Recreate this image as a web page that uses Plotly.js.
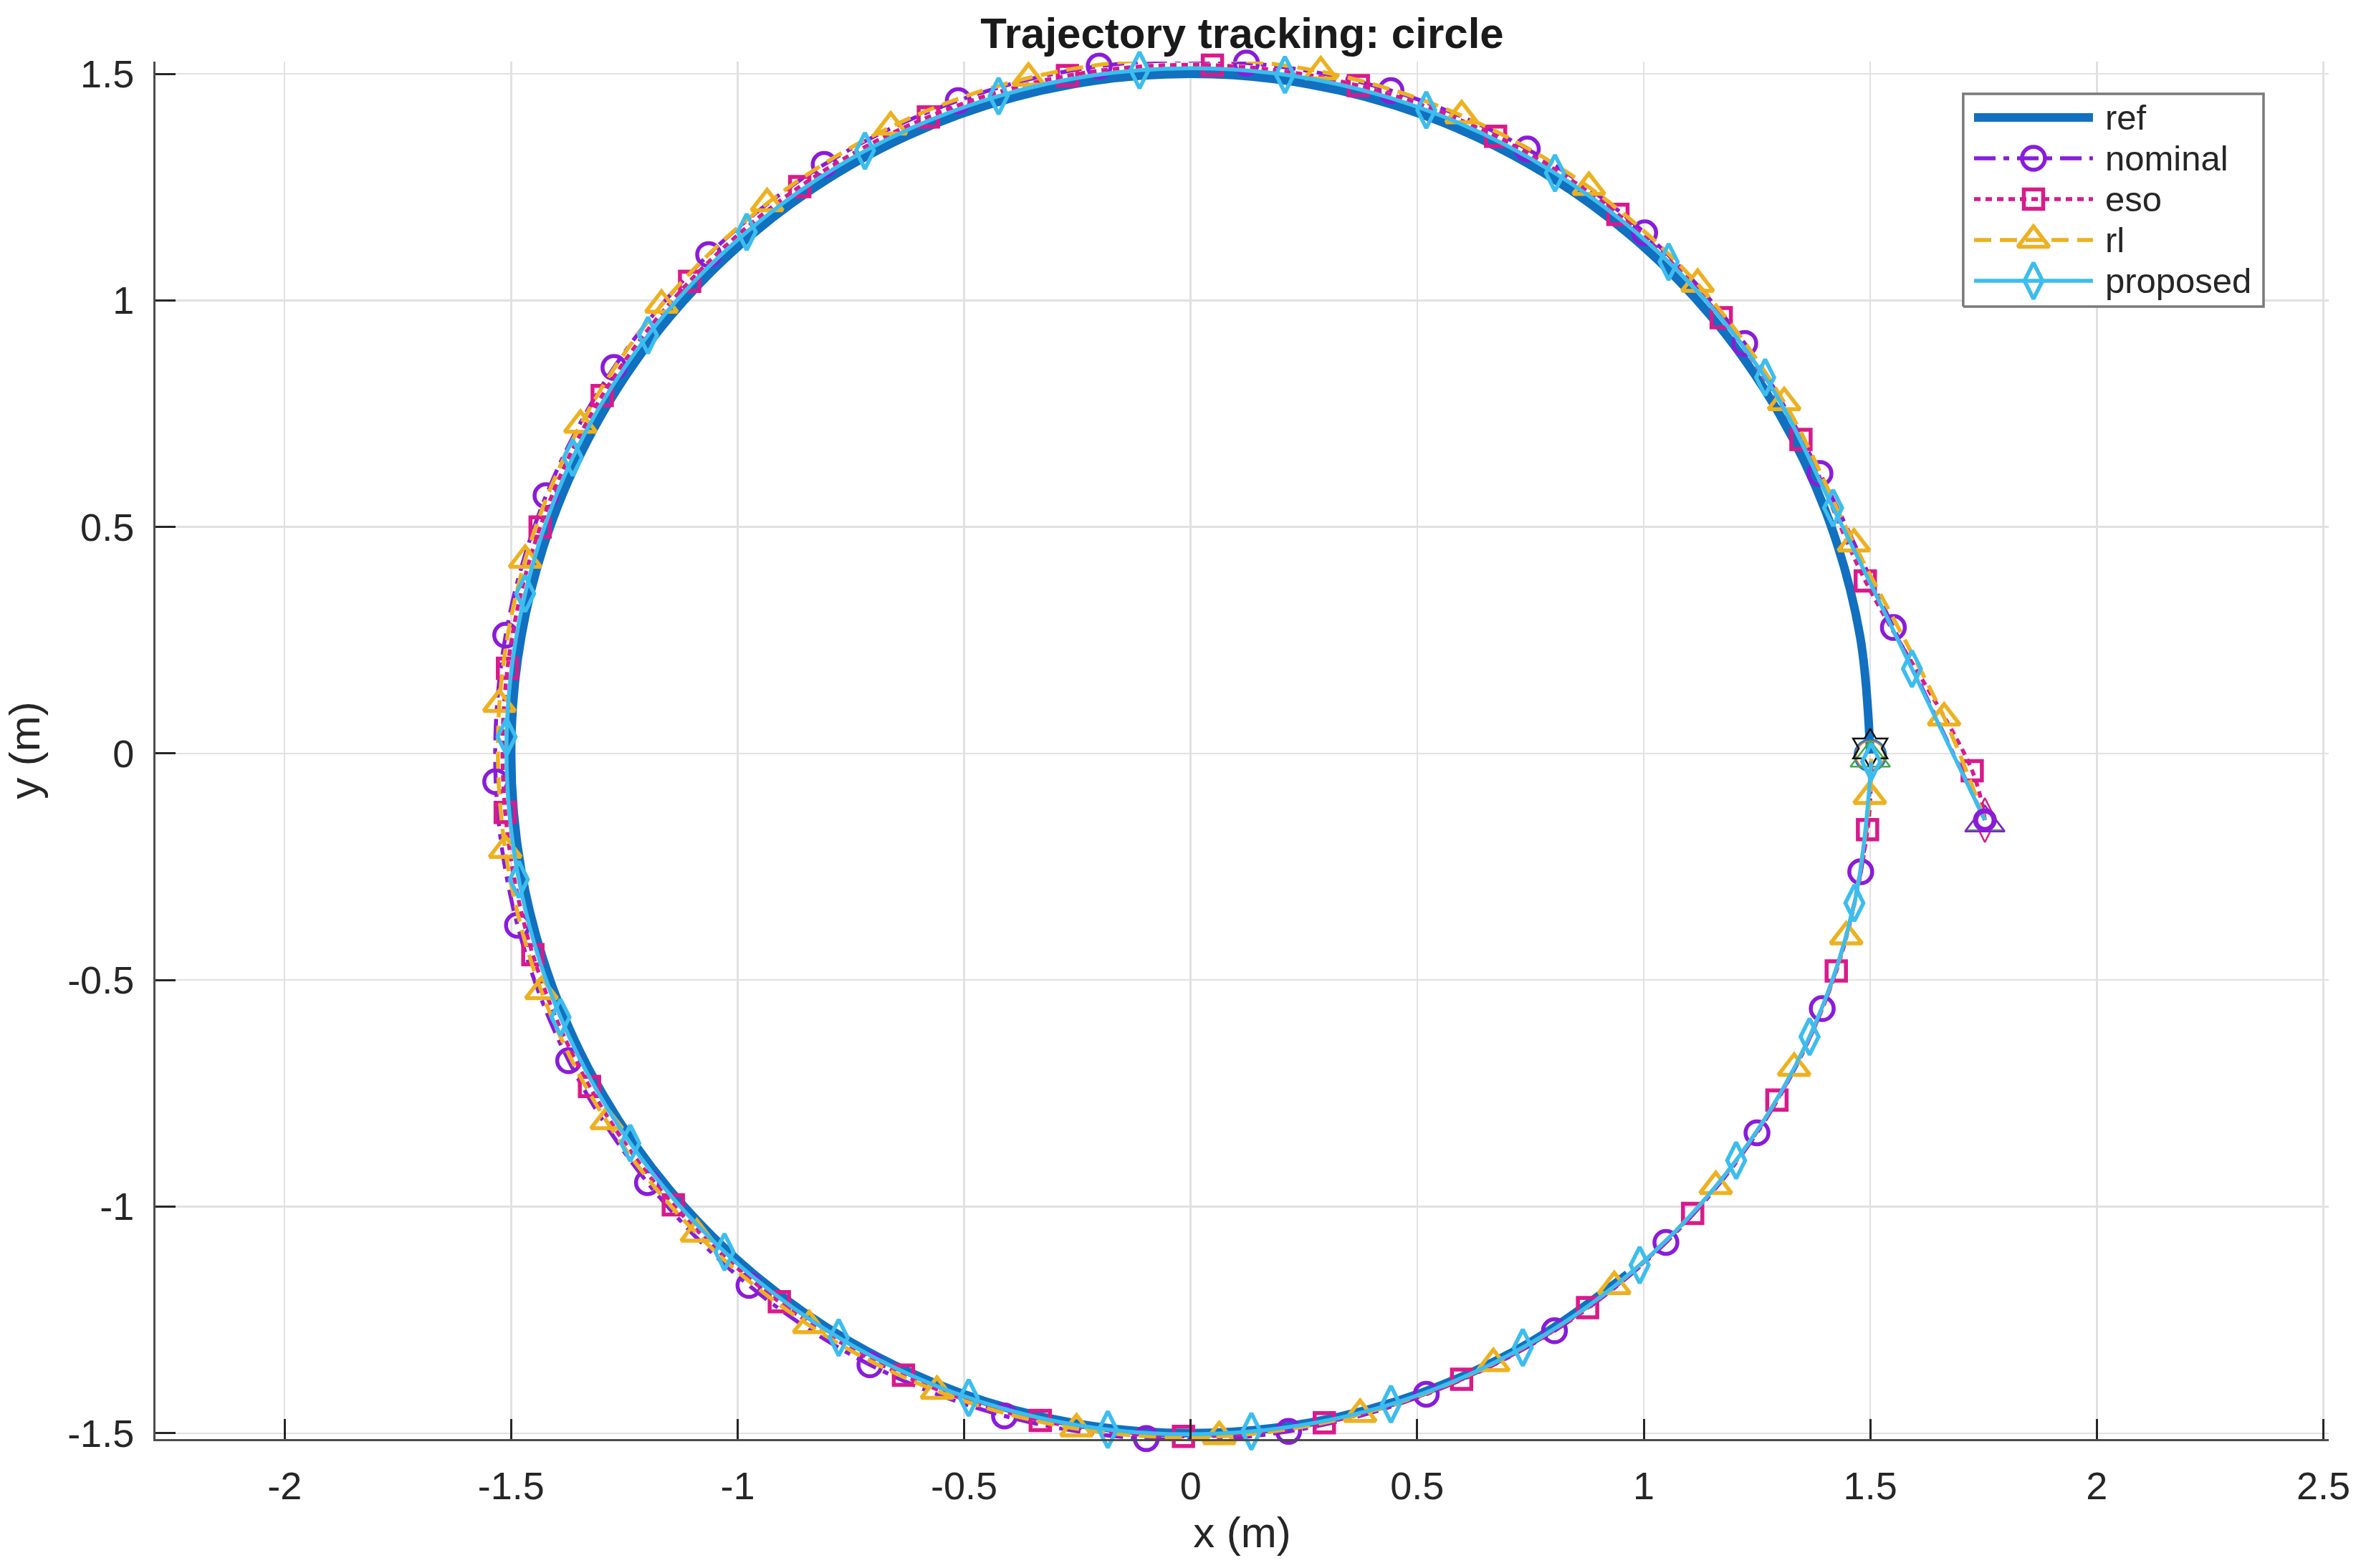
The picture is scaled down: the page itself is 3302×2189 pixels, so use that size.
<!DOCTYPE html>
<html>
<head>
<meta charset="utf-8">
<script src="https://cdn.plot.ly/plotly-3.0.1.min.js"></script>
<style>
html,body{margin:0;padding:0;background:#ffffff;}
#chart{width:3302px;height:2189px;}
</style>
</head>
<body>
<div id="chart"></div>
<script>
// ---------------- data ----------------
const seriesNames = ['ref', 'nominal', 'eso', 'rl', 'proposed'];

// reference circle (r = 1.5), starts at (1.5, 0), counter-clockwise
const refX = [1.5, 1.4772, 1.4095, 1.2990, 1.1491, 0.9642, 0.75, 0.5130, 0.2605, 0,
  -0.2605, -0.5130, -0.75, -0.9642, -1.1491, -1.2990, -1.4095, -1.4772, -1.5,
  -1.4772, -1.4095, -1.2990, -1.1491, -0.9642, -0.75, -0.5130, -0.2605, 0,
  0.2605, 0.5130, 0.75, 0.9642];
const refY = [0, 0.2605, 0.5130, 0.75, 0.9642, 1.1491, 1.2990, 1.4095, 1.4772, 1.5,
  1.4772, 1.4095, 1.2990, 1.1491, 0.9642, 0.75, 0.5130, 0.2605, 0,
  -0.2605, -0.5130, -0.75, -0.9642, -1.1491, -1.2990, -1.4095, -1.4772, -1.5,
  -1.4772, -1.4095, -1.2990, -1.1491];

const nominalX = [1.753, 1.551, 1.389, 1.223, 1.002, 0.743, 0.442, 0.123, -0.202, -0.513,
  -0.809, -1.064, -1.273, -1.423, -1.512, -1.534, -1.486, -1.373, -1.199, -0.975,
  -0.708, -0.411, -0.098, 0.216, 0.520, 0.803, 1.049, 1.250, 1.394, 1.479, 1.502];
const nominalY = [-0.147, 0.278, 0.618, 0.905, 1.149, 1.334, 1.463, 1.524, 1.517, 1.441,
  1.300, 1.101, 0.852, 0.569, 0.261, -0.062, -0.379, -0.678, -0.947, -1.174,
  -1.349, -1.462, -1.512, -1.496, -1.414, -1.274, -1.079, -0.837, -0.563, -0.261, -0.012];

const esoX = [1.753, 1.725, 1.489, 1.347, 1.171, 0.943, 0.673, 0.370, 0.048, -0.272,
  -0.579, -0.863, -1.106, -1.299, -1.436, -1.508, -1.513, -1.452, -1.327, -1.142,
  -0.908, -0.634, -0.332, -0.016, 0.295, 0.598, 0.876, 1.108, 1.294, 1.425, 1.494, 1.502];
const esoY = [-0.147, -0.038, 0.381, 0.693, 0.962, 1.190, 1.362, 1.474, 1.519, 1.496,
  1.405, 1.251, 1.042, 0.790, 0.500, 0.188, -0.130, -0.444, -0.735, -0.996,
  -1.210, -1.372, -1.472, -1.507, -1.477, -1.381, -1.223, -1.015, -0.765, -0.480, -0.168, -0.012];

const rlX = [1.753, 1.663, 1.464, 1.310, 1.119, 0.879, 0.598, 0.287, -0.037, -0.358,
  -0.662, -0.935, -1.168, -1.347, -1.469, -1.526, -1.513, -1.433, -1.289, -1.090,
  -0.842, -0.560, -0.252, 0.063, 0.374, 0.668, 0.935, 1.159, 1.332, 1.447, 1.499, 1.502];
const rlY = [-0.147, 0.079, 0.463, 0.775, 1.036, 1.250, 1.408, 1.505, 1.533, 1.491,
  1.383, 1.214, 0.990, 0.725, 0.427, 0.109, -0.213, -0.525, -0.812, -1.060,
  -1.262, -1.407, -1.490, -1.507, -1.458, -1.346, -1.176, -0.955, -0.694, -0.404, -0.094, -0.012];

const proposedX = [1.753, 1.592, 1.418, 1.268, 1.055, 0.804, 0.520, 0.208, -0.113, -0.424,
  -0.719, -0.980, -1.198, -1.364, -1.469, -1.510, -1.483, -1.391, -1.237, -1.029,
  -0.777, -0.490, -0.183, 0.134, 0.442, 0.733, 0.991, 1.204, 1.366, 1.465, 1.502];
const proposedY = [-0.147, 0.187, 0.542, 0.830, 1.085, 1.281, 1.420, 1.498, 1.508, 1.451,
  1.330, 1.151, 0.923, 0.653, 0.353, 0.037, -0.278, -0.582, -0.860, -1.100,
  -1.289, -1.422, -1.492, -1.496, -1.436, -1.311, -1.129, -0.898, -0.625, -0.330, -0.018];

// start / end points of the runs
const startX = [1.753];
const startY = [-0.147];
const endX = [1.5];
const endY = [0.0];

const xTickVals = [-2, -1.5, -1, -0.5, 0, 0.5, 1, 1.5, 2, 2.5];
const xTickText = ['-2', '-1.5', '-1', '-0.5', '0', '0.5', '1', '1.5', '2', '2.5'];
const yTickVals = [-1.5, -1, -0.5, 0, 0.5, 1, 1.5];
const yTickText = ['-1.5', '-1', '-0.5', '0', '0.5', '1', '1.5'];

// ---------------- styles ----------------
const COL = {ref: '#1170BF', nominal: '#8A1CD9', eso: '#D91A8C', rl: '#EDB120', proposed: '#3CBDEE'};
const FONT = '"Liberation Sans", Arial, Helvetica, sans-serif';
const LW = 5.5;
const STY = {
  nominal: {dash: '30px,11px,8px,11px', symbol: 'circle-open', size: 32},
  eso: {dash: '9px,7px', symbol: 'square-open', size: 27},
  rl: {dash: '24px,12px', symbol: 'triangle-up-open', size: 38},
  proposed: {dash: 'solid', symbol: 'diamond-tall-open', size: 36}
};

function hideEnds(n, hideLast) {
  return Array.from({length: n}, (_, i) => (i === 0 || (hideLast && i === n - 1)) ? 0 : 1);
}

function seriesTrace(name, xs, ys, hideLast) {
  const s = STY[name];
  return {
    type: 'scatter', mode: 'lines+markers', name: name, x: xs, y: ys,
    line: {color: COL[name], width: LW, dash: s.dash, shape: 'spline', smoothing: 1},
    marker: {symbol: s.symbol, size: s.size, color: COL[name], opacity: hideEnds(xs.length, hideLast),
             line: {color: COL[name], width: LW}},
    cliponaxis: false, showlegend: false, hoverinfo: 'skip'
  };
}

const traces = [];
traces.push({
  type: 'scatter', mode: 'lines', name: 'ref', x: refX, y: refY,
  line: {color: COL.ref, width: 12, shape: 'spline', smoothing: 1},
  showlegend: false, hoverinfo: 'skip'
});

// start / end marker clusters
function pt(xs, ys, symbol, size, color, width, dy) {
  return {type: 'scatter', mode: 'markers', x: xs, y: ys.map(v => v + (dy || 0)),
    marker: {symbol: symbol, size: size, color: color, line: {color: color, width: width}},
    cliponaxis: false, showlegend: false, hoverinfo: 'skip'};
}
traces.push(pt(startX, startY, 'diamond-tall-open', 44, '#D91A8C', 2.5));
traces.push(pt(startX, startY, 'triangle-up-open', 46, '#3FAE3F', 2.5, -0.004));
traces.push(pt(startX, startY, 'triangle-up-open', 48, '#8A1CD9', 2.5, -0.006));
traces.push(pt(endX, endY, 'circle-open', 40, '#E8812C', 2.5, -0.004));
traces.push(pt(endX, endY, 'circle-open', 44, '#1F77D0', 2.5, -0.004));
traces.push(pt(endX, endY, 'triangle-up-open', 48, '#3FAE3F', 2.5, -0.01));
traces.push(pt(endX, endY, 'hexagram-open', 42, '#111111', 2.5, 0.011));

traces.push(seriesTrace('nominal', nominalX, nominalY, true));
traces.push(seriesTrace('eso', esoX, esoY, true));
traces.push(seriesTrace('rl', rlX, rlY, true));
traces.push(seriesTrace('proposed', proposedX, proposedY, false));
traces.push(pt(startX, startY, 'circle-open', 26, '#8A1CD9', 7));

// ---------------- legend (drawn on an overlay axis, range 0..1) ----------------
const LG = {x0: 0.8318, x1: 0.9700, y0: 0.8222, y1: 0.9766, lx0: 0.8368, lx1: 0.8915, tx: 0.8965,
            rows: [0.9594, 0.9298, 0.9002, 0.8705, 0.8409]};
traces.push({
  type: 'scatter', mode: 'lines', xaxis: 'x2', yaxis: 'y2',
  x: [LG.x0, LG.x1, LG.x1, LG.x0, LG.x0], y: [LG.y0, LG.y0, LG.y1, LG.y1, LG.y0],
  fill: 'toself', fillcolor: '#ffffff', line: {color: '#7a7a7a', width: 3.5},
  showlegend: false, hoverinfo: 'skip'
});
const annotations = [];
seriesNames.forEach((name, i) => {
  const yy = LG.rows[i];
  const mid = (LG.lx0 + LG.lx1) / 2;
  if (name === 'ref') {
    traces.push({type: 'scatter', mode: 'lines', xaxis: 'x2', yaxis: 'y2', x: [LG.lx0, LG.lx1], y: [yy, yy],
      line: {color: COL.ref, width: 12}, showlegend: false, hoverinfo: 'skip'});
  } else {
    const s = STY[name];
    traces.push({type: 'scatter', mode: 'lines+markers', xaxis: 'x2', yaxis: 'y2',
      x: [LG.lx0, mid, LG.lx1], y: [yy, yy, yy],
      line: {color: COL[name], width: LW, dash: s.dash},
      marker: {symbol: s.symbol, size: s.size, color: COL[name], opacity: [0, 1, 0], line: {color: COL[name], width: LW}},
      showlegend: false, hoverinfo: 'skip'});
  }
  annotations.push({xref: 'x2', yref: 'y2', x: LG.tx, y: yy, text: name, showarrow: false,
    xanchor: 'left', yanchor: 'middle', font: {family: FONT, size: 49, color: '#262626'}});
});

const axisCommon = {
  ticks: 'inside', ticklen: 28, tickwidth: 3, tickcolor: '#262626',
  showline: true, linecolor: '#4d4d4d', linewidth: 3, mirror: false,
  showgrid: true, gridcolor: '#e1e1e1', gridwidth: 2.5, zeroline: false,
  tickfont: {family: FONT, size: 54, color: '#262626'},
  fixedrange: true, automargin: false
};

const layout = {
  width: 3302, height: 2189,
  margin: {l: 217, r: 52, t: 86, b: 180, pad: 0},
  paper_bgcolor: '#ffffff', plot_bgcolor: '#ffffff',
  font: {family: FONT, size: 54, color: '#262626'},
  title: {text: 'Trajectory tracking: circle', font: {family: FONT, size: 60, color: '#1a1a1a', weight: 700},
          x: 0.5, xref: 'paper', xanchor: 'center', y: 1 - 46 / 2189, yref: 'container', yanchor: 'middle'},
  showlegend: false,
  xaxis: Object.assign({}, axisCommon, {range: [-2.285, 2.512], tickmode: 'array', tickvals: xTickVals, ticktext: xTickText,
    ticklabelstandoff: 16,
    title: {text: 'x (m)', font: {family: FONT, size: 60, color: '#262626'}, standoff: 16}}),
  yaxis: Object.assign({}, axisCommon, {range: [-1.513, 1.527], tickmode: 'array', tickvals: yTickVals, ticktext: yTickText,
    ticklabelstandoff: 16,
    title: {text: 'y (m)', font: {family: FONT, size: 60, color: '#262626'}, standoff: 20}}),
  xaxis2: {overlaying: 'x', range: [0, 1], visible: false, fixedrange: true},
  yaxis2: {overlaying: 'y', range: [0, 1], visible: false, fixedrange: true},
  annotations: annotations
};

Plotly.newPlot('chart', traces, layout, {staticPlot: true, displayModeBar: false});
</script>
</body>
</html>
